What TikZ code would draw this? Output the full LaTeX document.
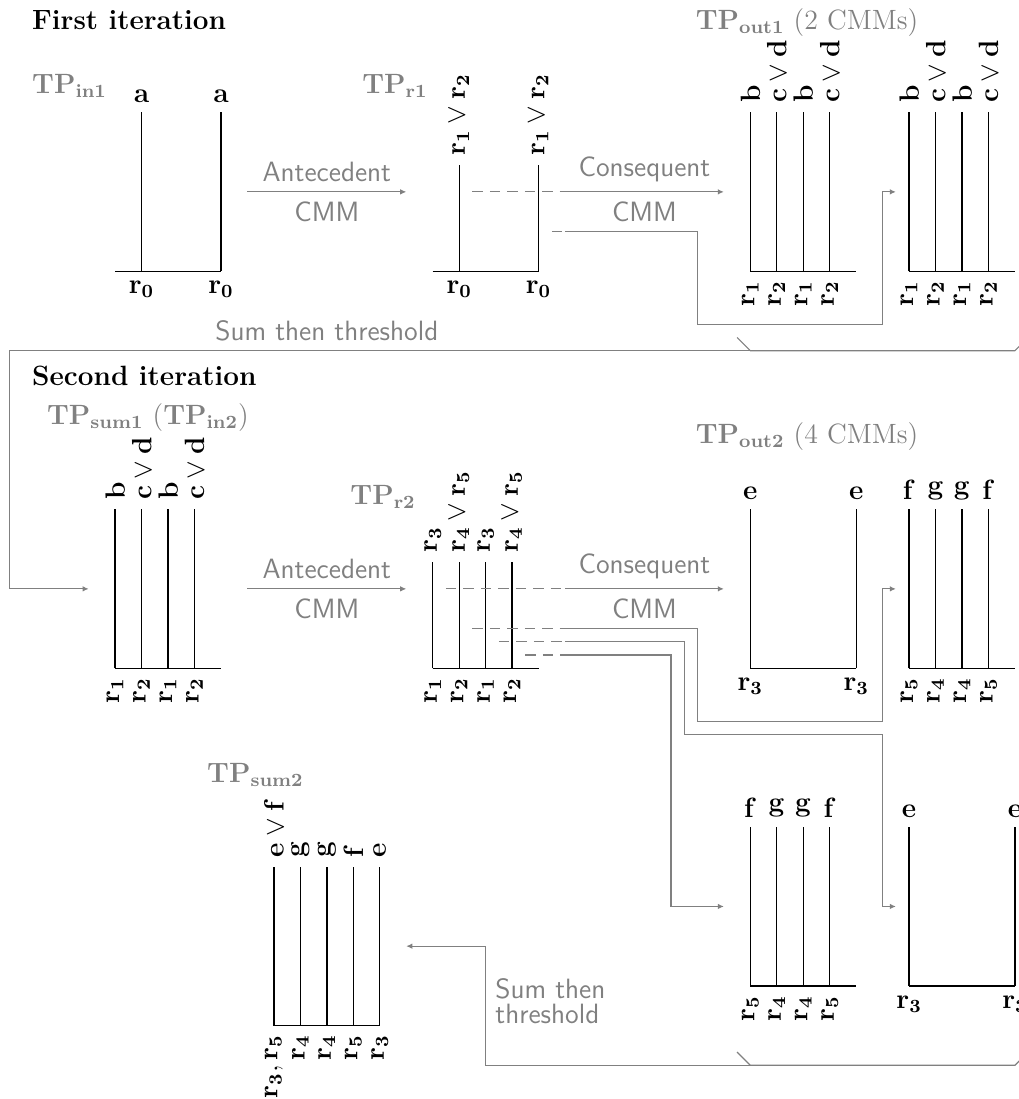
\documentclass[tikz,border=0pt,12pt]{standalone}
\usetikzlibrary{calc,arrows.meta}

\begin{document}
\begin{tikzpicture}[>={Latex[length=2.6pt,width=2.4pt]},
    tpline/.style={line width=0.55pt},
    conn/.style={gray, line width=0.5pt, ->},
    dconn/.style={gray, line width=0.5pt, dash pattern=on 4.5pt off 3pt},
    gline/.style={gray, line width=0.5pt},
    head/.style={anchor=base west, inner sep=0pt, font=\bfseries},
    tplabel/.style={anchor=base west, inner sep=0pt, gray},
    cmmlabel/.style={gray, font=\sffamily},
    toprot/.style={rotate=90, anchor=west},
    botrot/.style={rotate=90, anchor=east}]

    \useasboundingbox (0,0) rectangle (15.40,-16.61);
    \clip (0,0) rectangle (15.40,-16.61);

    % bottom left corner of each TP
    \coordinate (in1) at (1.74,-4.1);
    \coordinate (r1) at (6.54,-4.1);
    \coordinate (out1a) at (11.34,-4.1);
    \coordinate (out1b) at (13.74,-4.1);
    \coordinate (sum1) at (1.74,-10.1);
    \coordinate (r2) at (6.54,-10.1);
    \coordinate (out2a) at (11.34,-10.1);
    \coordinate (out2b) at (13.74,-10.1);
    \coordinate (out2c) at (11.34,-14.9);
    \coordinate (out2d) at (13.74,-14.9);
    \coordinate (sum2) at (4.14,-15.5);

    \node [head] (first) at (0.48,-0.443) {First iteration};
    \node [head] (second) at (0.48,-5.82) {Second iteration};
    \node [tplabel] (in1lab) at (0.48,-1.41) {$\mathbf{TP_{in1}}$};
    \node [tplabel] (r1lab) at (5.47,-1.41) {$\mathbf{TP_{r1}}$};
    \node [tplabel] (out1lab) at (10.51,-0.443) {$\mathbf{TP_{out1}}$ (2 CMMs)};
    \node [tplabel] (sum1lab) at (0.705,-6.42) {$\mathbf{TP_{sum1}}$ ($\mathbf{TP_{in2}}$)};
    \node [tplabel] (r2lab) at (5.29,-7.62) {$\mathbf{TP_{r2}}$};
    \node [tplabel] (out2lab) at (10.51,-6.70) {$\mathbf{TP_{out2}}$ (4 CMMs)};
    \node [tplabel] (sum2lab) at (3.125,-11.82) {$\mathbf{TP_{sum2}}$};

    % TP_in1
    \begin{scope}[shift={(in1)}]
        \draw [tpline] (0,0) -- (1.6,0);
        \foreach \x [count=\i] in {0.4,1.6} {
            \draw [tpline] (\x,0) -- (\x,2.4);
            \node [above] (in1-t\i) at (\x,2.4) {$\mathbf{a}$};
            \node [below] (in1-b\i) at (\x,0) {$\mathbf{r_0}$};
        }
    \end{scope}

    % TP_r1
    \begin{scope}[shift={(r1)}]
        \draw [tpline] (0,0) -- (1.6,0);
        \foreach \x [count=\i] in {0.4,1.6} {
            \draw [tpline] (\x,0) -- (\x,1.6);
            \node [toprot] (r1-t\i) at (\x,1.6) {$\mathbf{r_1} \vee \mathbf{r_2}$};
            \node [below] (r1-b\i) at (\x,0) {$\mathbf{r_0}$};
        }
    \end{scope}

    % TP_out1 and TP_sum1
    \foreach \blk in {out1a,out1b,sum1} {
        \begin{scope}[shift={(\blk)}]
            \draw [tpline] (0,0) -- (1.6,0);
            \foreach \x/\t/\b [count=\i] in {0/\mathbf{b}/\mathbf{r_1}, 0.4/\mathbf{c} \vee \mathbf{d}/\mathbf{r_2}, 0.8/\mathbf{b}/\mathbf{r_1}, 1.2/\mathbf{c} \vee \mathbf{d}/\mathbf{r_2}} {
                \draw [tpline] (\x,0) -- (\x,2.4);
                \node [toprot] (\blk-t\i) at (\x,2.4) {$\t$};
                \node [botrot] (\blk-b\i) at (\x,0) {$\b$};
            }
        \end{scope}
    }

    % TP_r2
    \begin{scope}[shift={(r2)}]
        \draw [tpline] (0,0) -- (1.6,0);
        \foreach \x/\t/\b [count=\i] in {0/\mathbf{r_3}/\mathbf{r_1}, 0.4/\mathbf{r_4} \vee \mathbf{r_5}/\mathbf{r_2}, 0.8/\mathbf{r_3}/\mathbf{r_1}, 1.2/\mathbf{r_4} \vee \mathbf{r_5}/\mathbf{r_2}} {
            \draw [tpline] (\x,0) -- (\x,1.6);
            \node [toprot] (r2-t\i) at (\x,1.6) {$\t$};
            \node [botrot] (r2-b\i) at (\x,0) {$\b$};
        }
    \end{scope}

    % TP_out2, e parts
    \foreach \blk in {out2a,out2d} {
        \begin{scope}[shift={(\blk)}]
            \draw [tpline] (0,0) -- (1.6,0);
            \foreach \x [count=\i] in {0,1.6} {
                \draw [tpline] (\x,0) -- (\x,2.4);
                \node [above] (\blk-t\i) at (\x,2.4) {$\mathbf{e}$};
                \node [below] (\blk-b\i) at (\x,0) {$\mathbf{r_3}$};
            }
        \end{scope}
    }

    % TP_out2, f g parts
    \foreach \blk in {out2b,out2c} {
        \begin{scope}[shift={(\blk)}]
            \draw [tpline] (0,0) -- (1.6,0);
            \foreach \x/\t/\b [count=\i] in {0/\mathbf{f}/\mathbf{r_5}, 0.4/\mathbf{g}/\mathbf{r_4}, 0.8/\mathbf{g}/\mathbf{r_4}, 1.2/\mathbf{f}/\mathbf{r_5}} {
                \draw [tpline] (\x,0) -- (\x,2.4);
                \node [above] (\blk-t\i) at (\x,2.4) {$\t$};
                \node [botrot] (\blk-b\i) at (\x,0) {$\b$};
            }
        \end{scope}
    }

    % TP_sum2
    \begin{scope}[shift={(sum2)}]
        \draw [tpline] (0,0) -- (1.6,0);
        \foreach \x/\t/\b [count=\i] in {0/\mathbf{e} \vee \mathbf{f}/{\mathbf{r_3}, \mathbf{r_5}}, 0.4/\mathbf{g}/\mathbf{r_4}, 0.8/\mathbf{g}/\mathbf{r_4}, 1.2/\mathbf{f}/\mathbf{r_5}, 1.6/\mathbf{e}/\mathbf{r_3}} {
            \draw [tpline] (\x,0) -- (\x,2.4);
            \node [toprot] (sum2-t\i) at (\x,2.4) {$\t$};
            \node [botrot] (sum2-b\i) at (\x,0) {$\b$};
        }
    \end{scope}

    % first iteration
    \draw [conn] ($(in1)+(2,1.2)$) -- node [cmmlabel, above] (ant1) {Antecedent} node [cmmlabel, below] (cmm1) {CMM} ($(r1)+(-0.4,1.2)$);
    \draw [dconn] ($(r1)+(0.6,1.2)$) -- ($(r1)+(2,1.2)$);
    \draw [conn] ($(r1)+(2,1.2)$) -- node [cmmlabel, above] (cons1) {Consequent} node [cmmlabel, below] (cmm2) {CMM} ($(out1a)+(-0.4,1.2)$);
    \draw [dconn] ($(r1)+(1.8,0.6)$) -- ($(r1)+(2,0.6)$);
    \draw [conn] ($(r1)+(2,0.6)$) -| ($(out1a)+(-0.8,-0.8)$) -| ($(out1b)+(-0.4,1.2)$) -- ($(out1b)+(-0.2,1.2)$);

    % sum then threshold, back to the start
    \draw [gline] ($(out1a)+(-0.2,-1)$) -- ($(out1a)+(0,-1.2)$) -- ($(out1b)+(1.6,-1.2)$) -- ($(out1b)+(1.8,-1)$);
    \draw [conn] ($(out1a)+(0,-1.2)$) -| ($(sum1)+(-1.6,1.2)$) -- ($(sum1)+(-0.4,1.2)$);
    \node [cmmlabel, above] (thr1) at ($(in1)+(3.2,-1.2)$) {Sum then threshold};

    % second iteration
    \draw [conn] ($(sum1)+(2,1.2)$) -- node [cmmlabel, above] (ant2) {Antecedent} node [cmmlabel, below] (cmm3) {CMM} ($(r2)+(-0.4,1.2)$);
    \draw [dconn] ($(r2)+(0.2,1.2)$) -- ($(r2)+(2,1.2)$);
    \draw [conn] ($(r2)+(2,1.2)$) -- node [cmmlabel, above] (cons2) {Consequent} node [cmmlabel, below] (cmm4) {CMM} ($(out2a)+(-0.4,1.2)$);
    \draw [dconn] ($(r2)+(0.6,0.6)$) -- ($(r2)+(2,0.6)$);
    \draw [conn] ($(r2)+(2,0.6)$) -| ($(out2a)+(-0.8,-0.8)$) -| ($(out2b)+(-0.4,1.2)$) -- ($(out2b)+(-0.2,1.2)$);
    \draw [dconn] ($(r2)+(1,0.4)$) -- ($(r2)+(2,0.4)$);
    \draw [conn] ($(r2)+(2,0.4)$) -| ($(out2a)+(-1,-1)$) -| ($(out2d)+(-0.4,1.2)$) -- ($(out2d)+(-0.2,1.2)$);
    \draw [dconn] ($(r2)+(1.4,0.2)$) -- ($(r2)+(2,0.2)$);
    \draw [conn] ($(r2)+(2,0.2)$) -| ($(out2c)+(-1.2,1.2)$) -- ($(out2c)+(-0.4,1.2)$);

    % sum then threshold, into TP_sum2
    \draw [gline] ($(out2c)+(-0.2,-1)$) -- ($(out2c)+(0,-1.2)$) -- ($(out2d)+(1.6,-1.2)$) -- ($(out2d)+(1.8,-1)$);
    \draw [conn] ($(out2c)+(0,-1.2)$) -| ($(sum2)+(3.2,1.2)$) -- ($(sum2)+(2,1.2)$);
    \node [cmmlabel, anchor=west, align=left, font=\sffamily\fontsize{12}{11}\selectfont] (thr2) at ($(sum2)+(3.2,0.37)$) {Sum then\\threshold};
\end{tikzpicture}
\end{document}
